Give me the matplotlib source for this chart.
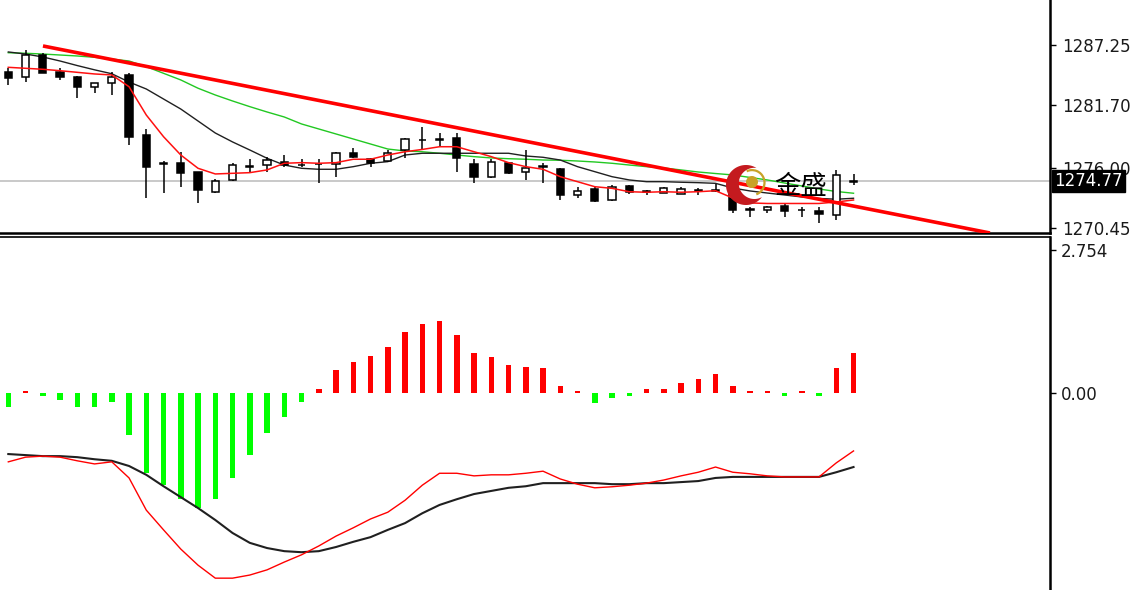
import numpy as np
import matplotlib
matplotlib.use('Agg')
import matplotlib.pyplot as plt
from matplotlib.patches import Rectangle, Polygon, Circle, Arc

# candles
opens = [1284.80, 1284.28, 1286.33, 1284.80, 1284.28, 1283.42, 1283.73, 1284.50, 1278.99, 1276.39,
         1276.39, 1275.56, 1273.78, 1274.86, 1276.08, 1276.23, 1276.54, 1276.26, 1276.35, 1276.33,
         1277.31, 1276.76, 1276.63, 1277.61, 1278.50, 1278.56, 1278.69, 1276.33, 1275.16, 1276.39,
         1275.62, 1276.11, 1275.84, 1273.48, 1274.00, 1273.02, 1274.31, 1273.80, 1273.64, 1273.57,
         1273.89, 1273.94, 1273.57, 1272.19, 1272.10, 1272.47, 1272.13, 1272.04, 1271.64, 1274.70]
highs = [1285.14, 1286.79, 1286.49, 1285.11, 1284.40, 1283.75, 1284.80, 1284.65, 1279.51, 1276.63,
         1277.45, 1275.62, 1274.92, 1276.45, 1276.76, 1276.94, 1277.15, 1276.76, 1276.76, 1277.45,
         1277.77, 1276.85, 1277.61, 1278.69, 1279.75, 1279.14, 1279.14, 1276.76, 1276.76, 1276.54,
         1277.61, 1276.45, 1275.93, 1274.24, 1274.24, 1274.40, 1274.40, 1273.94, 1274.17, 1274.24,
         1274.09, 1274.49, 1273.78, 1272.41, 1272.47, 1272.72, 1272.41, 1272.41, 1275.78, 1275.41]
lows = [1283.58, 1283.88, 1284.65, 1284.04, 1282.36, 1282.87, 1282.66, 1278.07, 1273.18, 1273.64,
        1274.24, 1272.77, 1273.64, 1274.79, 1275.62, 1275.62, 1276.08, 1276.08, 1274.61, 1275.16,
        1276.85, 1276.08, 1276.54, 1276.85, 1277.61, 1277.91, 1275.62, 1274.55, 1275.01, 1275.41,
        1274.86, 1274.55, 1273.02, 1273.18, 1272.87, 1272.96, 1273.57, 1273.48, 1273.62, 1273.57,
        1273.48, 1273.78, 1271.80, 1271.43, 1271.80, 1271.49, 1271.49, 1270.88, 1271.19, 1274.40]
closes = [1284.19, 1286.33, 1284.71, 1284.28, 1283.37, 1283.73, 1284.28, 1278.83, 1276.08, 1276.30,
          1275.53, 1273.94, 1274.79, 1276.23, 1276.11, 1276.69, 1276.23, 1276.21, 1276.30, 1277.31,
          1276.94, 1276.45, 1277.36, 1278.62, 1278.56, 1278.62, 1276.85, 1275.16, 1276.54, 1275.47,
          1275.99, 1276.05, 1273.48, 1273.87, 1272.96, 1274.24, 1273.78, 1273.76, 1274.09, 1274.00,
          1273.85, 1273.89, 1272.10, 1272.13, 1272.41, 1272.04, 1272.07, 1271.73, 1275.32, 1274.77]

ma_red = [1285.20, 1285.11, 1285.02, 1284.89, 1284.74, 1284.59, 1284.50, 1283.42, 1280.82, 1278.83,
          1277.15, 1275.93, 1275.41, 1275.47, 1275.53, 1275.78, 1276.39, 1276.45, 1276.39, 1276.45,
          1276.76, 1276.76, 1277.15, 1277.45, 1277.66, 1277.91, 1277.91, 1277.45, 1277.00, 1276.45,
          1276.08, 1275.84, 1275.16, 1274.70, 1274.24, 1274.09, 1273.78, 1273.73, 1273.78, 1273.73,
          1273.78, 1273.87, 1273.20, 1272.75, 1272.70, 1272.70, 1272.70, 1272.70, 1272.84, 1273.02]
ma_black = [1286.61, 1286.42, 1286.15, 1285.78, 1285.36, 1284.97, 1284.61, 1283.85, 1283.21, 1282.29,
            1281.37, 1280.27, 1279.17, 1278.35, 1277.61, 1276.85, 1276.23, 1275.93, 1275.84, 1275.84,
            1276.08, 1276.39, 1276.54, 1277.15, 1277.31, 1277.31, 1277.31, 1277.31, 1277.31, 1277.31,
            1277.06, 1276.94, 1276.69, 1276.08, 1275.62, 1275.16, 1274.86, 1274.70, 1274.70, 1274.65,
            1274.61, 1274.55, 1274.12, 1273.85, 1273.66, 1273.48, 1273.30, 1273.16, 1273.09, 1273.18]
ma_green = [1286.54, 1286.49, 1286.42, 1286.33, 1286.24, 1286.12, 1285.96, 1285.78, 1285.26, 1284.65,
            1284.04, 1283.28, 1282.66, 1282.11, 1281.59, 1281.10, 1280.64, 1280.00, 1279.54, 1279.08,
            1278.62, 1278.16, 1277.70, 1277.52, 1277.45, 1277.31, 1277.15, 1277.00, 1276.88, 1276.81,
            1276.76, 1276.69, 1276.67, 1276.60, 1276.51, 1276.39, 1276.23, 1276.08, 1275.96, 1275.78,
            1275.59, 1275.45, 1275.32, 1275.09, 1274.86, 1274.58, 1274.31, 1274.03, 1273.80, 1273.64]

trend_x = [2.01, 56.91]
trend_y = [1287.16, 1269.99]
last_price = 1274.77
price_ticks = [1287.25, 1281.70, 1276.00, 1270.45]

hist = [-0.27, 0.04, -0.06, -0.12, -0.27, -0.27, -0.16, -0.80, -1.53, -1.77,
        -2.04, -2.20, -2.03, -1.64, -1.19, -0.77, -0.45, -0.16, 0.08, 0.44,
        0.61, 0.72, 0.90, 1.19, 1.33, 1.40, 1.12, 0.77, 0.69, 0.55,
        0.51, 0.48, 0.15, 0.04, -0.19, -0.10, -0.06, 0.08, 0.08, 0.19,
        0.27, 0.37, 0.15, 0.04, 0.04, -0.05, 0.04, -0.05, 0.48, 0.77]
line_red = [-1.32, -1.23, -1.21, -1.23, -1.30, -1.36, -1.32, -1.63, -2.25, -2.63,
            -3.00, -3.31, -3.56, -3.56, -3.50, -3.40, -3.25, -3.11, -2.94, -2.75,
            -2.59, -2.42, -2.29, -2.06, -1.77, -1.54, -1.54, -1.59, -1.57, -1.57,
            -1.54, -1.50, -1.65, -1.75, -1.82, -1.80, -1.77, -1.73, -1.67, -1.59,
            -1.52, -1.42, -1.52, -1.55, -1.59, -1.61, -1.61, -1.61, -1.34, -1.11]
line_black = [-1.17, -1.19, -1.21, -1.21, -1.23, -1.27, -1.30, -1.40, -1.57, -1.79,
              -2.00, -2.21, -2.44, -2.69, -2.88, -2.98, -3.04, -3.06, -3.04, -2.96,
              -2.86, -2.77, -2.63, -2.50, -2.31, -2.15, -2.04, -1.94, -1.88, -1.82,
              -1.79, -1.73, -1.73, -1.73, -1.73, -1.75, -1.75, -1.73, -1.73, -1.71,
              -1.69, -1.63, -1.61, -1.61, -1.61, -1.61, -1.61, -1.61, -1.52, -1.42]
macd_ticks = [2.754, 0.0]
macd_labels = ['2.754', '0.00']

W, H = 1140, 590
fig = plt.figure(figsize=(W / 100, H / 100), dpi=100)
fig.patch.set_facecolor('white')

ax = fig.add_axes([0, 1 - 233 / H, 1050 / W, 233 / H])
ax2 = fig.add_axes([0, 0, 1050 / W, 353 / H])

xs = np.arange(len(opens))
xlim = (-0.481, 60.39)

# candles
for i in xs:
    o, h, l, c = opens[i], highs[i], lows[i], closes[i]
    ax.plot([i, i], [l, h], color='black', lw=1.1, zorder=3, solid_capstyle='butt')
    bottom = min(o, c)
    height = max(abs(c - o), 0.06)
    face = 'white' if c > o else 'black'
    ax.add_patch(Rectangle((i - 0.21, bottom), 0.42, height, facecolor=face,
                           edgecolor='black', lw=1.1, zorder=4))

ax.plot(xs, ma_green, color='#22c822', lw=1.0, zorder=2)
ax.plot(xs, ma_black, color='#202020', lw=1.0, zorder=2)
ax.plot(xs, ma_red, color='#ff1010', lw=1.1, zorder=5)
ax.plot(trend_x, trend_y, color='#ff0000', lw=2.6, zorder=6, solid_capstyle='butt')
ax.axhline(last_price, color='#c0c0c0', lw=1.2, zorder=1)

ax.set_xlim(*xlim)
ax.set_ylim(1269.99, 1291.38)
for s in ['top', 'left']:
    ax.spines[s].set_visible(False)
ax.spines['right'].set_linewidth(1.8)
ax.spines['bottom'].set_linewidth(1.8)
ax.set_xticks([])
ax.yaxis.tick_right()
ax.set_yticks(price_ticks)
ax.set_yticklabels([f'{v:.2f}' for v in price_ticks])
ax.tick_params(axis='y', direction='out', length=4, width=1, pad=5,
               labelsize=12, labelcolor='#1a1a1a')
ax.annotate(f'{last_price:.2f}', xy=(1.004, last_price), xycoords=('axes fraction', 'data'),
            ha='left', va='center', fontsize=12, color='white', annotation_clip=False,
            bbox=dict(boxstyle='square,pad=0.12', fc='black', ec='black'))

# MACD panel
colors = ['#ff0000' if v > 0 else '#00ff00' for v in hist]
ax2.bar(xs, hist, width=0.32, color=colors, zorder=2)
ax2.plot(xs, line_black, color='#202020', lw=1.5, zorder=3)
ax2.plot(xs, line_red, color='#ff0000', lw=1.0, zorder=4)
ax2.set_xlim(*xlim)
ax2.set_ylim(-3.788, 3.010)
for s in ['left', 'bottom']:
    ax2.spines[s].set_visible(False)
ax2.spines['right'].set_linewidth(1.8)
ax2.spines['top'].set_linewidth(1.2)
ax2.set_xticks([])
ax2.yaxis.tick_right()
ax2.set_yticks(macd_ticks)
ax2.set_yticklabels(macd_labels)
ax2.tick_params(axis='y', direction='out', length=4, width=1, pad=4,
                labelsize=12, labelcolor='#1a1a1a')

# watermark logo
lg = fig.add_axes([724 / W, 1 - 208 / H, 44 / W, 46 / H])
lg.set_xlim(-1.1, 1.1)
lg.set_ylim(-1.15, 1.15)
lg.axis('off')
lg.patch.set_alpha(0)
t = np.linspace(0, 2 * np.pi, 400)
outer = np.c_[np.cos(t), np.sin(t)]
keep_o = (outer[:, 0] - 0.42) ** 2 + (outer[:, 1] - 0.08) ** 2 > 0.78 ** 2
inner = np.c_[0.42 + 0.78 * np.cos(t), 0.08 + 0.78 * np.sin(t)]
keep_i = inner[:, 0] ** 2 + inner[:, 1] ** 2 < 1
crescent = np.vstack([outer[keep_o], inner[keep_i][::-1]])
lg.add_patch(Polygon(crescent, closed=True, fc='#c41a1f', ec='none'))
lg.add_patch(Arc((0.3, 0.12), 1.25, 1.25, theta1=-70, theta2=115, color='#c9a227', lw=1.6))
lg.add_patch(Circle((0.3, 0.15), 0.3, fc='#c9a227', ec='none'))
fig.text(774 / W, 1 - 186 / H, '金盛', fontsize=19, ha='left', va='center',
         family=['Noto Sans CJK SC', 'DejaVu Sans'], color='black')

fig.savefig('out.png', dpi=100)
